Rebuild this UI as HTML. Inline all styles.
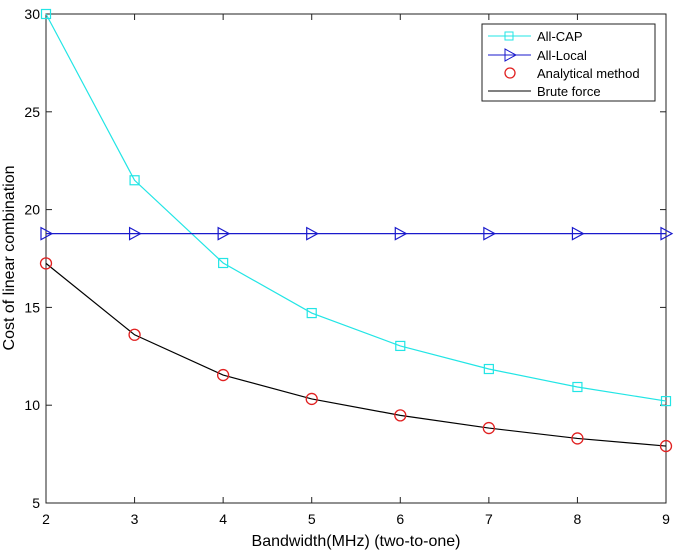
<!DOCTYPE html>
<html><head><meta charset="utf-8"><style>
html,body{margin:0;padding:0;background:#fff;}
svg text{font-family:"Liberation Sans",sans-serif;}
</style></head><body>
<svg id="chart" width="685" height="552" xmlns="http://www.w3.org/2000/svg">
<rect x="46" y="14" width="620" height="489" fill="#fff" stroke="#222" stroke-width="1"/>
<g id="axes"></g>
<g id="series"></g>
<text x="356" y="546" font-size="16" text-anchor="middle">Bandwidth(MHz) (two-to-one)</text>
<text transform="translate(14,258) rotate(-90)" font-size="16" text-anchor="middle">Cost of linear combination</text>
<g>
<rect x="482" y="24" width="173" height="77" fill="#fff" stroke="#222" stroke-width="1"/>
<line x1="488" y1="36" x2="531" y2="36" stroke="#22e5e5"/>
<rect x="505" y="32" width="8" height="8" fill="none" stroke="#22e5e5"/>
<text x="537" y="41" font-size="13">All-CAP</text>
<line x1="488" y1="55" x2="531" y2="55" stroke="#1a1acc"/>
<polygon points="505,49 516,55 505,61" fill="none" stroke="#1a1acc"/>
<text x="537" y="60" font-size="13">All-Local</text>
<circle cx="510" cy="73" r="5" fill="none" stroke="#e02020" stroke-width="1.3"/>
<text x="537" y="78" font-size="13">Analytical method</text>
<line x1="488" y1="91" x2="531" y2="91" stroke="#000"/>
<text x="537" y="96" font-size="13">Brute force</text>
</g>
</svg>
<script>
const categories=[2,3,4,5,6,7,8,9];
const allCap=[30,21.5,17.27,14.71,13.03,11.85,10.93,10.21];
const allLocal=[18.77,18.77,18.77,18.77,18.77,18.77,18.77,18.77];
const analytical=[17.25,13.6,11.54,10.32,9.48,8.83,8.3,7.91];
const bruteForce=[17.25,13.6,11.54,10.32,9.48,8.83,8.3,7.91];
const yTicks=[5,10,15,20,25,30];
const NS="http://www.w3.org/2000/svg";
const X=v=>46+(v-2)*(620/7);
const Y=v=>503-(v-5)*(489/25);
const axes=document.getElementById('axes');
const ser=document.getElementById('series');
function mk(tag,attrs,parent){const e=document.createElementNS(NS,tag);for(const k in attrs)e.setAttribute(k,attrs[k]);parent.appendChild(e);return e;}
categories.forEach(c=>{
 mk('line',{x1:X(c),x2:X(c),y1:503,y2:497,stroke:'#222'},axes);
 mk('line',{x1:X(c),x2:X(c),y1:14,y2:20,stroke:'#222'},axes);
 const t=mk('text',{x:X(c),y:524,'font-size':14,'text-anchor':'middle'},axes);
 t.textContent=c;
 
 
});
yTicks.forEach(v=>{
 mk('line',{x1:46,x2:52,y1:Y(v),y2:Y(v),stroke:'#222'},axes);
 mk('line',{x1:660,x2:666,y1:Y(v),y2:Y(v),stroke:'#222'},axes);
 const t=mk('text',{x:40,y:Y(v)+5,'font-size':14,'text-anchor':'end'},axes);
 t.textContent=v;
 
 
});
function line(vals,color,name){
 const p=mk('polyline',{points:vals.map((v,i)=>X(categories[i])+','+Y(v)).join(' '),fill:'none',stroke:color,'stroke-width':1.2},ser);
 
 
}
line(allCap,'#22e5e5','all-cap-line');
line(allLocal,'#1a1acc','all-local-line');
line(bruteForce,'#000','brute-force-line');
allCap.forEach((v,i)=>{const r=mk('rect',{x:X(categories[i])-4.5,y:Y(v)-4.5,width:9,height:9,fill:'none',stroke:'#22e5e5','stroke-width':1.2},ser);
 
 });
allLocal.forEach((v,i)=>{const x=X(categories[i]),y=Y(v);const r=mk('polygon',{points:`${x-5},${y-6} ${x+6},${y} ${x-5},${y+6}`,fill:'none',stroke:'#1a1acc','stroke-width':1.2},ser);
 
 });
analytical.forEach((v,i)=>{const r=mk('circle',{cx:X(categories[i]),cy:Y(v),r:5.5,fill:'none',stroke:'#e02020','stroke-width':1.3},ser);
 
 });
</script>
</body></html>
